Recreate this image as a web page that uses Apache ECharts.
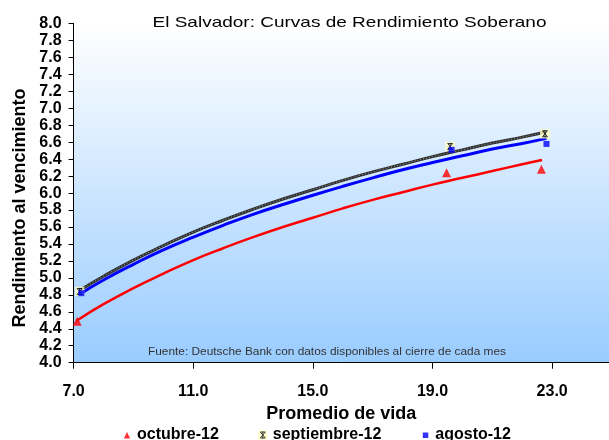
<!DOCTYPE html>
<html>
<head>
<meta charset="utf-8">
<script src="https://cdn.jsdelivr.net/npm/echarts@6/dist/echarts.min.js"></script>
<style>html,body{margin:0;padding:0;background:#fff}#c{width:609px;height:440px}</style>
</head>
<body>
<div id="c"></div>
<script>
// ---- data ----
const seriesNames = ['octubre-12', 'septiembre-12', 'agosto-12'];
const pointsOct = [[7.12, 4.49], [19.47, 6.24], [22.64, 6.28]];
const pointsSep = [[7.20, 4.84], [19.59, 6.55], [22.76, 6.70]];
const pointsAgo = [[7.26, 4.82], [19.64, 6.51], [22.81, 6.58]];
// trend curves
const trendOct = [[7.10,4.495],[8,4.69],[9,4.88],[10,5.05],[11,5.21],[12,5.35],[13,5.48],[14,5.60],[15,5.71],[16,5.82],[17,5.92],[18,6.01],[19,6.10],[20,6.18],[21,6.26],[22,6.34],[22.66,6.39]];
const trendSep = [[7.21,4.855],[8,5.02],[9,5.21],[10,5.38],[11,5.54],[12,5.68],[13,5.81],[14,5.93],[15,6.04],[16,6.15],[17,6.25],[18,6.34],[19,6.43],[20,6.51],[21,6.59],[22,6.66],[22.78,6.72]];
const trendAgo = [[7.26,4.82],[8,4.975],[9,5.16],[10,5.33],[11,5.48],[12,5.62],[13,5.75],[14,5.865],[15,5.975],[16,6.08],[17,6.18],[18,6.275],[19,6.36],[20,6.44],[21,6.52],[22,6.585],[22.81,6.645]];
const xTicks = [7, 11, 15, 19, 23];
const titleText = 'El Salvador: Curvas de Rendimiento Soberano';
const xName = 'Promedio de vida';
const yName = 'Rendimiento al vencimiento';
const sourceText = 'Fuente: Deutsche Bank con datos disponibles al cierre de cada mes';

function svgIcon(inner) {
  return 'image://data:image/svg+xml;charset=utf-8,' + encodeURIComponent(
    "<svg xmlns='http://www.w3.org/2000/svg' width='10' height='10' viewBox='0 0 10 10'>" + inner + "</svg>");
}
const starInner = "<rect width='10' height='10' fill='#FFFFC0'/><path d='M2.5 2L7.5 8M7.5 2L2.5 8M5 1.5V8.5M2.5 2H7.5M2.5 8H7.5' stroke='#000' stroke-width='1' fill='none'/>";
const starIcon = svgIcon(starInner);
const legendStar = svgIcon("<rect x='0.5' y='0.5' width='9' height='9' fill='#FFFFC0'/><path d='M2.5 2L7.5 8M7.5 2L2.5 8M5 1.5V8.5M2.5 2H7.5M2.5 8H7.5' stroke='#000' stroke-width='0.9' fill='none'/>");
const legendTri = svgIcon("<path d='M5 2L8.2 8.5H1.8Z' fill='#FF0000'/>");
const legendSq = svgIcon("<rect x='2.5' y='2.5' width='5.5' height='5.5' fill='#0000FF'/>");

const FONT = 'Arial, "Liberation Sans", sans-serif';
function textWidth(t, font) {
  const ctx = document.createElement('canvas').getContext('2d');
  ctx.font = font;
  return ctx.measureText(t).width;
}
const titleFont = '15px ' + FONT;
const titleScale = 394 / textWidth(titleText, titleFont);
const srcFont = '11px ' + FONT;
const srcScale = 358 / textWidth(sourceText, srcFont);

const chart = echarts.init(document.getElementById('c'), null, {renderer: 'canvas'});
const option = {
  animation: false,
  backgroundColor: '#ffffff',
  grid: {
    left: 73.6, right: 0, top: 23.5, bottom: 77.3, show: true, borderWidth: 0,
    backgroundColor: {type: 'linear', x: 0, y: 0, x2: 0, y2: 1,
      colorStops: [{offset: 0, color: '#FFFFFF'}, {offset: 1, color: '#99CCFF'}]}
  },
  legend: {
    left: 117, top: 422, itemWidth: 10, itemHeight: 10, itemGap: 39,
    textStyle: {fontFamily: FONT, fontSize: 16, fontWeight: 'bold', color: '#000'},
    data: [
      {name: seriesNames[0], icon: legendTri},
      {name: seriesNames[1], icon: legendStar},
      {name: seriesNames[2], icon: legendSq}
    ]
  },
  xAxis: {
    type: 'value', min: 7, max: 24.9,
    name: xName, nameLocation: 'middle', nameGap: 39,
    nameTextStyle: {fontFamily: FONT, fontSize: 18, fontWeight: 'bold', color: '#000'},
    axisLine: {show: true, lineStyle: {color: '#000', width: 1}},
    axisTick: {show: true, length: 6, customValues: xTicks, lineStyle: {color: '#000'}},
    axisLabel: {customValues: xTicks, margin: 21, fontFamily: FONT, fontSize: 16, fontWeight: 'bold', color: '#000',
      formatter: v => v.toFixed(1)},
    splitLine: {show: false}
  },
  yAxis: {
    type: 'value', min: 4, max: 8, interval: 0.2,
    axisLine: {show: true, lineStyle: {color: '#000', width: 1}},
    axisTick: {show: true, length: 5, lineStyle: {color: '#000'}},
    axisLabel: {margin: 12, fontFamily: FONT, fontSize: 16, fontWeight: 'bold', color: '#000', lineHeight: 16,
      formatter: v => v.toFixed(1)},
    splitLine: {show: false}
  },
  graphic: [
    {type: 'text', x: 152.5, y: 23, scaleX: titleScale,
      style: {text: titleText, font: titleFont, fill: '#000', align: 'left', verticalAlign: 'middle'}},
    {type: 'text', x: 20, y: 208, rotation: Math.PI / 2,
      style: {text: yName, font: 'bold 18px ' + FONT, fill: '#000', align: 'center', verticalAlign: 'middle'}},
    {type: 'text', x: 148, y: 352, scaleX: srcScale,
      style: {text: sourceText, font: srcFont, fill: '#333', align: 'left', verticalAlign: 'middle'}, z: 100}
  ],
  series: [
    {type: 'line', data: trendOct, smooth: true, showSymbol: false, silent: true,
      lineStyle: {color: '#FF0000', width: 2.5}, z: 2},
    {type: 'line', data: trendAgo, smooth: true, showSymbol: false, silent: true,
      lineStyle: {color: '#0000FF', width: 3}, z: 2},
    {type: 'line', data: trendSep, smooth: true, showSymbol: false, silent: true,
      lineStyle: {color: '#303030', width: 3}, z: 3},
    {type: 'line', data: trendSep, smooth: true, showSymbol: false, silent: true,
      lineStyle: {color: '#A0A0A0', width: 1, type: [1, 2]}, z: 3},
    {name: seriesNames[0], type: 'scatter', data: pointsOct, symbol: 'triangle', symbolSize: 9,
      itemStyle: {color: '#FF0000'}, z: 5},
    {name: seriesNames[1], type: 'scatter', data: pointsSep, symbol: starIcon, symbolSize: 10, z: 5},
    {name: seriesNames[2], type: 'scatter', data: pointsAgo, symbol: 'rect', symbolSize: 6,
      itemStyle: {color: '#0000FF'}, z: 6}
  ]
};
chart.setOption(option);
</script>
</body>
</html>
